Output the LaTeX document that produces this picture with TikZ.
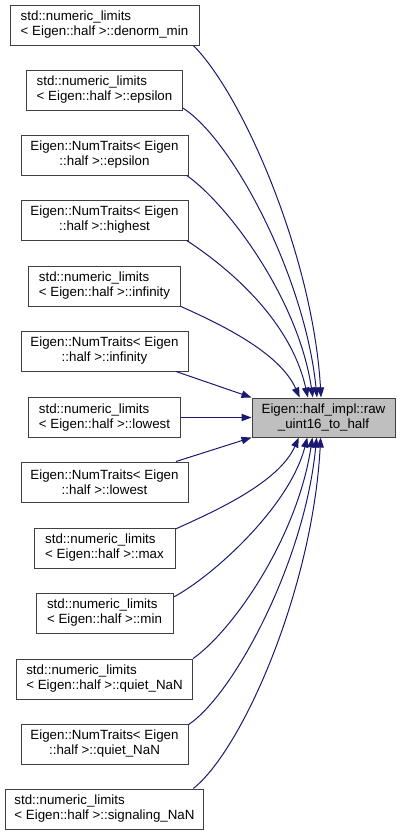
\documentclass[tikz,border=0pt]{standalone}
\usepackage{fontspec}
\setmainfont{Liberation Sans}
\usepackage{xcolor}
\usepackage{tikz}
\usetikzlibrary{arrows.meta}

\definecolor{vien}{HTML}{404040}
\definecolor{nenxam}{HTML}{BFBFBF}
\definecolor{mauCanh}{HTML}{191970}

\begin{document}
\begin{tikzpicture}[x=0.75pt, y=-0.75pt, font=\fontsize{10}{11.25}\selectfont,
    hop/.style={draw=vien, line width=0.75pt, fill=white, minimum height=30pt, inner sep=0pt},
    hopStd/.style={hop, align=left},
    hopNum/.style={hop, align=center, minimum width=125.25pt},
    hopChinh/.style={hop, fill=nenxam, align=center, minimum width=107.25pt, minimum height=29.25pt},
    canhNoi/.style={draw=mauCanh, line width=0.75pt, -{Triangle[length=7.5pt, width=5.5pt]}}]

    \useasboundingbox (0,0) rectangle (400,836);

    % =================================================================
    % 1. NUT CHINH (HAM DUOC GOI)
    % =================================================================
    \node[hopChinh] (raw) at (323.5,417.5) {Eigen::half\_impl::raw\\\_uint16\_to\_half};

    % =================================================================
    % 2. CAC NUT GOI HAM (COT BEN TRAI)
    % =================================================================
    \node[hopStd, minimum width=141.75pt] (denormMin) at (104.5,25) {std::numeric\_limits\\< Eigen::half >::denorm\_min};
    \node[hopStd, minimum width=117pt] (stdEpsilon) at (104.5,90) {std::numeric\_limits\\< Eigen::half >::epsilon};
    \node[hopNum] (numEpsilon) at (104.5,155) {Eigen::NumTraits< Eigen\\::half >::epsilon};
    \node[hopNum] (numHighest) at (104.5,220) {Eigen::NumTraits< Eigen\\::half >::highest};
    \node[hopStd, minimum width=114pt] (stdInfinity) at (104.5,286) {std::numeric\_limits\\< Eigen::half >::infinity};
    \node[hopNum] (numInfinity) at (104.5,351) {Eigen::NumTraits< Eigen\\::half >::infinity};
    \node[hopStd, minimum width=114pt] (stdLowest) at (104.5,417.5) {std::numeric\_limits\\< Eigen::half >::lowest};
    \node[hopNum] (numLowest) at (104.5,482) {Eigen::NumTraits< Eigen\\::half >::lowest};
    \node[hopStd, minimum width=105.75pt] (stdMax) at (104.5,548) {std::numeric\_limits\\< Eigen::half >::max};
    \node[hopStd, minimum width=102.75pt] (stdMin) at (104.5,613) {std::numeric\_limits\\< Eigen::half >::min};
    \node[hopStd, minimum width=132pt] (stdQuietNaN) at (104.5,679) {std::numeric\_limits\\< Eigen::half >::quiet\_NaN};
    \node[hopNum] (numQuietNaN) at (104.5,744) {Eigen::NumTraits< Eigen\\::half >::quiet\_NaN};
    \node[hopStd, minimum width=148.5pt] (signalingNaN) at (104.5,809) {std::numeric\_limits\\< Eigen::half >::signaling\_NaN};

    % =================================================================
    % 3. CAC CANH NOI VAO CANH TREN CUA NUT CHINH
    % =================================================================
    \draw[canhNoi] (denormMin.-13.5) .. controls +(50,50) and +(-8,-140) .. (raw.97);
    \draw[canhNoi] (stdEpsilon.-13) .. controls +(50,32) and +(-12,-120) .. (raw.108);
    \draw[canhNoi] (numEpsilon.-14) .. controls +(40,28) and +(-15,-100) .. (raw.118);
    \draw[canhNoi] (numHighest.-14.1) .. controls +(38,25) and +(-18,-80) .. (raw.128.5);
    \draw[canhNoi] (stdInfinity.-15.3) .. controls +(40,18) and +(-20,-45) .. (raw.140.3);

    % =================================================================
    % 4. CAC CANH THANG VAO CANH TRAI
    % =================================================================
    \draw[canhNoi] (numInfinity.-16.5) -- (raw.north west);
    \draw[canhNoi] (stdLowest.east) -- (raw.west);
    \draw[canhNoi] (numLowest.16.5) -- (raw.south west);

    % =================================================================
    % 5. CAC CANH NOI VAO CANH DUOI CUA NUT CHINH
    % =================================================================
    \draw[canhNoi] (stdMax.15) .. controls +(40,-18) and +(-20,45) .. (raw.219.7);
    \draw[canhNoi] (stdMin.13.1) .. controls +(38,-20) and +(-18,70) .. (raw.231.5);
    \draw[canhNoi] (stdQuietNaN.13.9) .. controls +(40,-28) and +(-15,100) .. (raw.241.7);
    \draw[canhNoi] (numQuietNaN.13.6) .. controls +(45,-30) and +(-12,125) .. (raw.251.6);
    \draw[canhNoi] (signalingNaN.13.5) .. controls +(50,-40) and +(-8,150) .. (raw.262.7);

\end{tikzpicture}
\end{document}
